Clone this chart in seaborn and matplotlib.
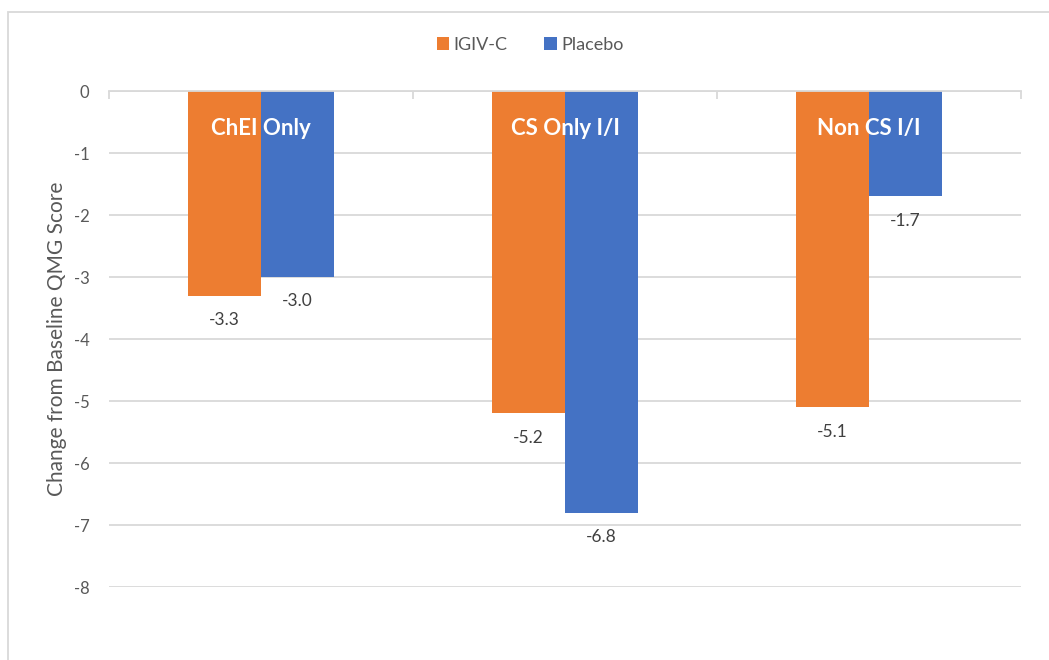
import matplotlib
matplotlib.use("Agg")
import matplotlib.pyplot as plt
from matplotlib.patches import Rectangle, Patch
import pandas as pd
import seaborn as sns

# Data
categories = ["ChEI Only", "CS Only I/I", "Non CS I/I"]
groups = ["IGIV-C", "Placebo"]
igiv_c = [-3.3, -5.2, -5.1]
placebo = [-3.0, -6.8, -1.7]
y_ticks = [0, -1, -2, -3, -4, -5, -6, -7, -8]

colors = {"IGIV-C": "#ED7D31", "Placebo": "#4472C4"}

df = pd.DataFrame({
    "category": categories * 2,
    "group": [groups[0]] * 3 + [groups[1]] * 3,
    "value": igiv_c + placebo,
})

sns.set_theme(style="white")
plt.rcParams["font.family"] = ["Lato", "DejaVu Sans"]

W, H = 1049, 660
fig = plt.figure(figsize=(W / 100, H / 100), dpi=100)
ax = fig.add_axes([109 / W, 1 - 587 / H, (1021 - 109) / W, (587 - 91) / H])

sns.barplot(data=df, x="category", y="value", hue="group", order=categories,
            hue_order=groups, palette=colors, saturation=1, width=0.48, gap=0,
            linewidth=0, legend=False, ax=ax, errorbar=None)

ax.set_ylim(-8, 0)
ax.set_xlim(-0.5, 2.5)
ax.set_yticks(y_ticks)
ax.set_yticklabels([str(t) for t in y_ticks])
ax.tick_params(axis="y", length=0, pad=14, labelsize=12, labelcolor="#595959")
ax.yaxis.grid(True, color="#D9D9D9", linewidth=1.3)
ax.set_axisbelow(True)
for s in ax.spines.values():
    s.set_visible(False)
ax.spines["top"].set_visible(True)
ax.spines["top"].set_color("#D9D9D9")
ax.spines["top"].set_linewidth(1.3)

# category boundary ticks along the zero line
ax.xaxis.tick_top()
ax.set_xticks([-0.5, 0.5, 1.5, 2.5])
ax.set_xticklabels([])
ax.tick_params(axis="x", direction="in", length=6, width=1.3, color="#D9D9D9")
ax.set_xlabel("")
ax.set_ylabel("Change from Baseline QMG Score", fontsize=15, color="#595959",
              labelpad=5)

# category names over the bars
for i, name in enumerate(categories):
    ax.text(i, -0.6, name, ha="center", va="center", color="white",
            fontsize=16, fontweight="bold")

# value labels under each bar
for cont in ax.containers:
    for bar in cont:
        v = bar.get_height()
        x = bar.get_x() + bar.get_width() / 2
        ax.annotate(f"{v:.1f}", (x, v), xytext=(0, -17.5),
                    textcoords="offset points", ha="center", va="center",
                    fontsize=12.5, color="#404040")

handles = [Patch(facecolor=colors[g], edgecolor="none") for g in groups]
fig.legend(handles, groups, loc="center", bbox_to_anchor=(530 / W, 1 - 45 / H),
           ncol=2, frameon=False, fontsize=13, handlelength=0.7,
           handleheight=0.7, handletextpad=0.25, columnspacing=2.0,
           labelcolor="#595959")

# chart frame
fig.patches.append(Rectangle((8 / W, -0.1), 1.2, 1.1 - 12 / H,
                             transform=fig.transFigure, fill=False,
                             edgecolor="#D9D9D9", linewidth=1.3))

fig.savefig("out.png", dpi=100)
